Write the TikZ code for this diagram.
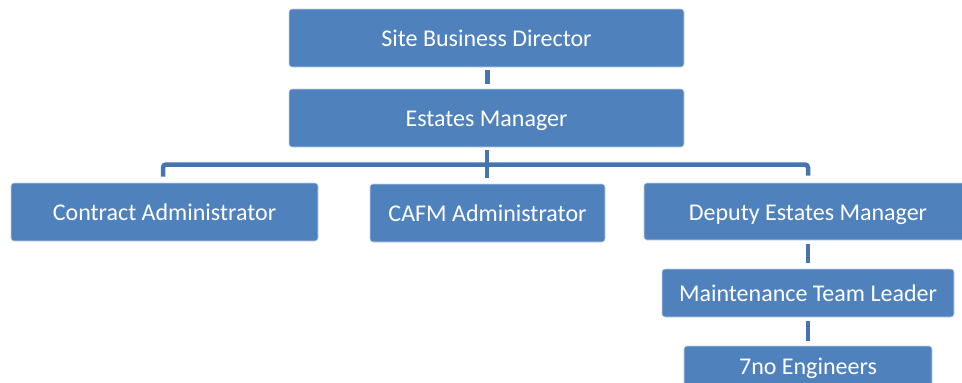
\documentclass[tikz,border=0pt]{standalone}
\usepackage{fontspec}
\setmainfont{Carlito}
\definecolor{boxblue}{HTML}{4F81BD}
\definecolor{boxrim}{HTML}{C5D3E8}
\definecolor{linkblue}{HTML}{4674AE}
\begin{document}
\begin{tikzpicture}[x=1pt,y=-1pt,
  orgbox/.style={draw=boxrim, line width=0.6pt, fill=boxblue, rounded corners=3pt,
    text=white, font=\fontsize{24}{28}\selectfont, inner sep=0pt, anchor=center,
    text height=17pt, text depth=0pt},
  link/.style={draw=linkblue, line width=4.5pt}]
\useasboundingbox (0,0) rectangle (962,383);
\begin{scope}
\clip (0,0) rectangle (962,383);
\node[orgbox, minimum width=395, minimum height=58] (sbd) at (486.5,38) {Site Business Director};
\node[orgbox, minimum width=395, minimum height=58] (em) at (486.5,118) {Estates Manager};
\node[orgbox, minimum width=307, minimum height=58] (ca) at (164.5,212) {Contract Administrator};
\node[orgbox, minimum width=235, minimum height=58] (cafm) at (487.5,213) {CAFM Administrator};
\node[orgbox, minimum width=328, minimum height=57] (dem) at (808,211.5) {Deputy Estates Manager};
\node[orgbox, minimum width=292, minimum height=48] (mtl) at (808,293) {Maintenance Team Leader};
\node[orgbox, minimum width=248, minimum height=40] (eng) at (808,366) {7no Engineers};
\end{scope}
\coordinate (bus) at (487,164.5);
\coordinate (busend) at (487,178);
\draw[link, line width=5pt] ([yshift=-3pt]sbd.south -| bus) -- ([yshift=5pt]em.north -| bus);
\draw[link] ([yshift=-3pt]em.south -| bus) -- (busend);
\draw[link, rounded corners=3pt] ([xshift=-1.5pt,yshift=6pt]ca.north) |- (bus) -| ([yshift=7pt]dem.north);
\draw[link] ([yshift=-4pt]dem.south) -- ([yshift=6pt]mtl.north);
\draw[link] ([yshift=-4pt]mtl.south) -- ([yshift=5pt]eng.north);
\end{tikzpicture}
\end{document}
